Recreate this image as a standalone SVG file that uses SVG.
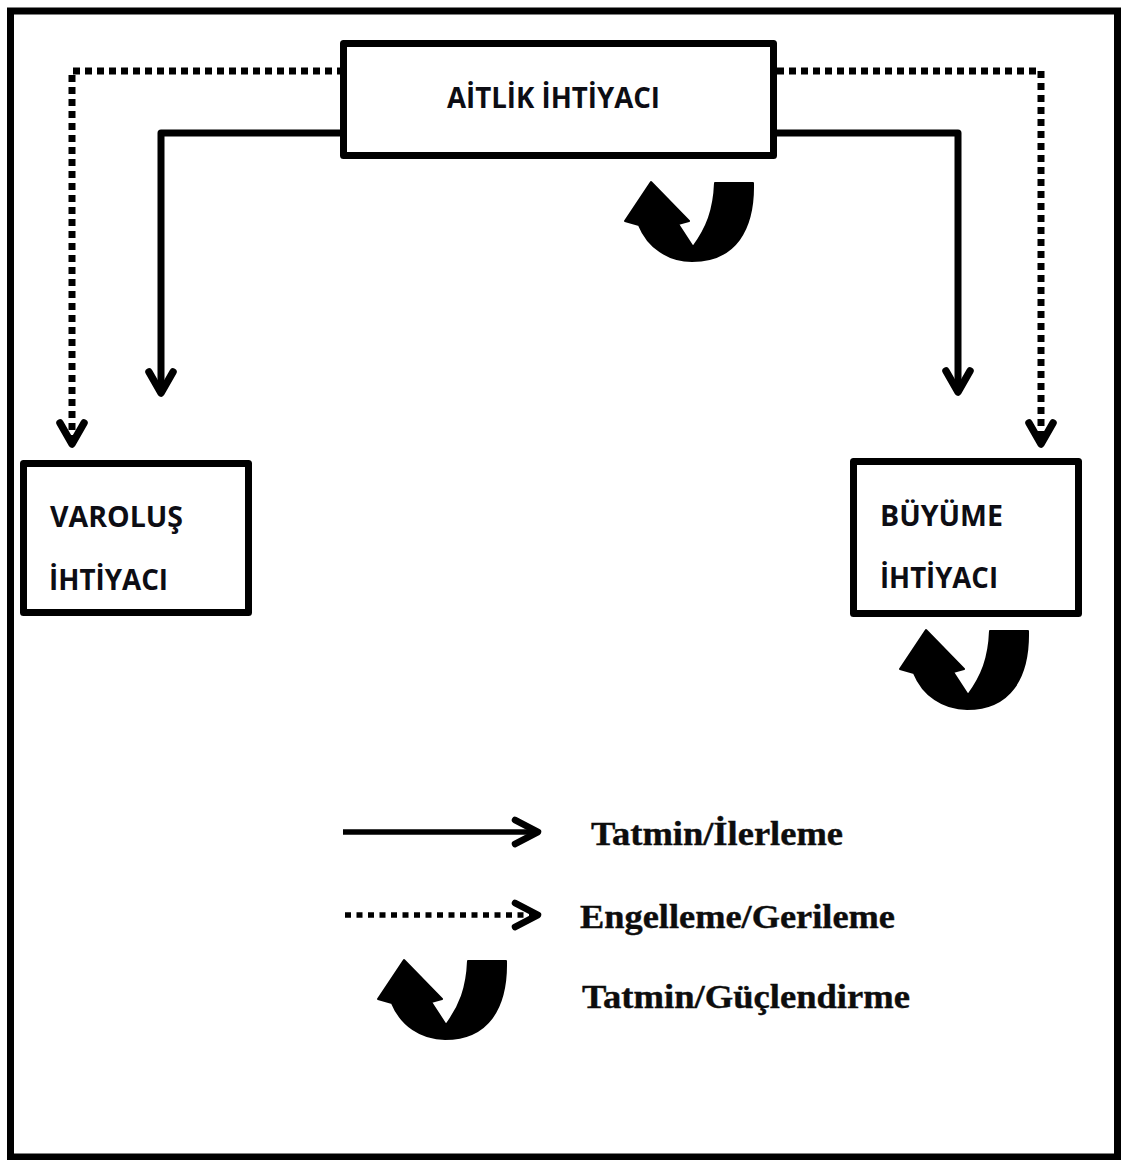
<svg xmlns="http://www.w3.org/2000/svg" xmlns:xlink="http://www.w3.org/1999/xlink" width="1121" height="1160" viewBox="0 0 1121 1160">
  <style>
    .frame { fill: #ffffff; stroke: #000000; stroke-width: 7; }
    .box { fill: #ffffff; stroke: #000000; stroke-width: 7; stroke-linejoin: round; }
    .lbl { font-family: "Open Sans", Lato, "Liberation Sans", sans-serif; font-weight: bold; font-size: 29px; fill: #0d0d14; }
    .leg { font-family: "Liberation Serif", "Times New Roman", serif; font-weight: bold; font-size: 33px; fill: #0d0d0d; stroke: #0d0d0d; stroke-width: 0.4; }
    .solid { fill: none; stroke: #000000; stroke-width: 7; stroke-linejoin: round; }
    .dotted { fill: none; stroke: #000000; stroke-width: 7; stroke-dasharray: 7 5; }
    .leg-solid { fill: none; stroke: #000000; stroke-width: 5.5; }
    .leg-dotted { fill: none; stroke: #000000; stroke-width: 5.5; stroke-dasharray: 6 5.5; }
    .turn { fill: #000000; stroke: #000000; stroke-width: 2; stroke-linejoin: round; }
  </style>
  <defs>
    <!-- open chevron arrowhead, tip slightly beyond the line end -->
    <marker id="chev" markerUnits="userSpaceOnUse" viewBox="-30 -20 40 40" markerWidth="40" markerHeight="40" refX="-2" refY="0" orient="auto" overflow="visible">
      <path d="M-21,-12 L0,0 L-21,12" fill="none" stroke="#000000" stroke-width="7.5" stroke-linecap="round" stroke-linejoin="round"/>
    </marker>
    <marker id="chev-sm" markerUnits="userSpaceOnUse" viewBox="-30 -20 40 40" markerWidth="40" markerHeight="40" refX="-2" refY="0" orient="auto" overflow="visible">
      <path d="M-23,-12 L0,0 L-23,12" fill="none" stroke="#000000" stroke-width="6.5" stroke-linecap="round" stroke-linejoin="round"/>
    </marker>
    <!-- U-turn reinforcement arrow -->
    <path id="uturn" class="turn" d="M715,183 L753,183 C754,230 735,261 692,261 C668,261 648,247 639,225 L625,221 L651,182 L689,221 L678,224 L693,247 C707,228 714,210 715,183 Z"/>
  </defs>

  <rect class="frame" x="10.5" y="11" width="1107" height="1146"/>

  <g id="connectors">
    <path class="solid" d="M344,133 H161 V391" marker-end="url(#chev)"/>
    <path class="solid" d="M777,133 H958 V390" marker-end="url(#chev)"/>
    <path class="dotted" d="M344,71 H72 V442" marker-end="url(#chev)"/>
    <path class="dotted" d="M777,71 H1041 V442" marker-end="url(#chev)"/>
  </g>

  <g id="aitlik">
    <rect class="box" x="343.5" y="43.5" width="430" height="112"/>
    <text class="lbl" x="447" y="108" textLength="213" lengthAdjust="spacingAndGlyphs">AİTLİK İHTİYACI</text>
  </g>

  <g id="aitlik-turn">
    <use xlink:href="#uturn"/>
  </g>

  <g id="varolus">
    <rect class="box" x="23.5" y="463.5" width="225" height="149"/>
    <text class="lbl" x="50" y="527" textLength="133" lengthAdjust="spacingAndGlyphs">VAROLUŞ</text>
    <text class="lbl" x="49" y="590" textLength="119" lengthAdjust="spacingAndGlyphs">İHTİYACI</text>
  </g>

  <g id="buyume">
    <rect class="box" x="853.5" y="461.5" width="225" height="152"/>
    <text class="lbl" x="880" y="526" textLength="123" lengthAdjust="spacingAndGlyphs">BÜYÜME</text>
    <text class="lbl" x="880" y="588" textLength="118" lengthAdjust="spacingAndGlyphs">İHTİYACI</text>
  </g>

  <g id="buyume-turn">
    <use xlink:href="#uturn" transform="translate(275,448)"/>
  </g>

  <g id="legend">
    <path class="leg-solid" d="M343,832 H536" marker-end="url(#chev-sm)"/>
    <text class="leg" x="591" y="845" textLength="252" lengthAdjust="spacingAndGlyphs">Tatmin/İlerleme</text>
    <path class="leg-dotted" d="M345,915 H536" marker-end="url(#chev-sm)"/>
    <text class="leg" x="580" y="928" textLength="315" lengthAdjust="spacingAndGlyphs">Engelleme/Gerileme</text>
    <use xlink:href="#uturn" transform="translate(-247,778)"/>
    <text class="leg" x="582" y="1008" textLength="328" lengthAdjust="spacingAndGlyphs">Tatmin/Güçlendirme</text>
  </g>
</svg>
